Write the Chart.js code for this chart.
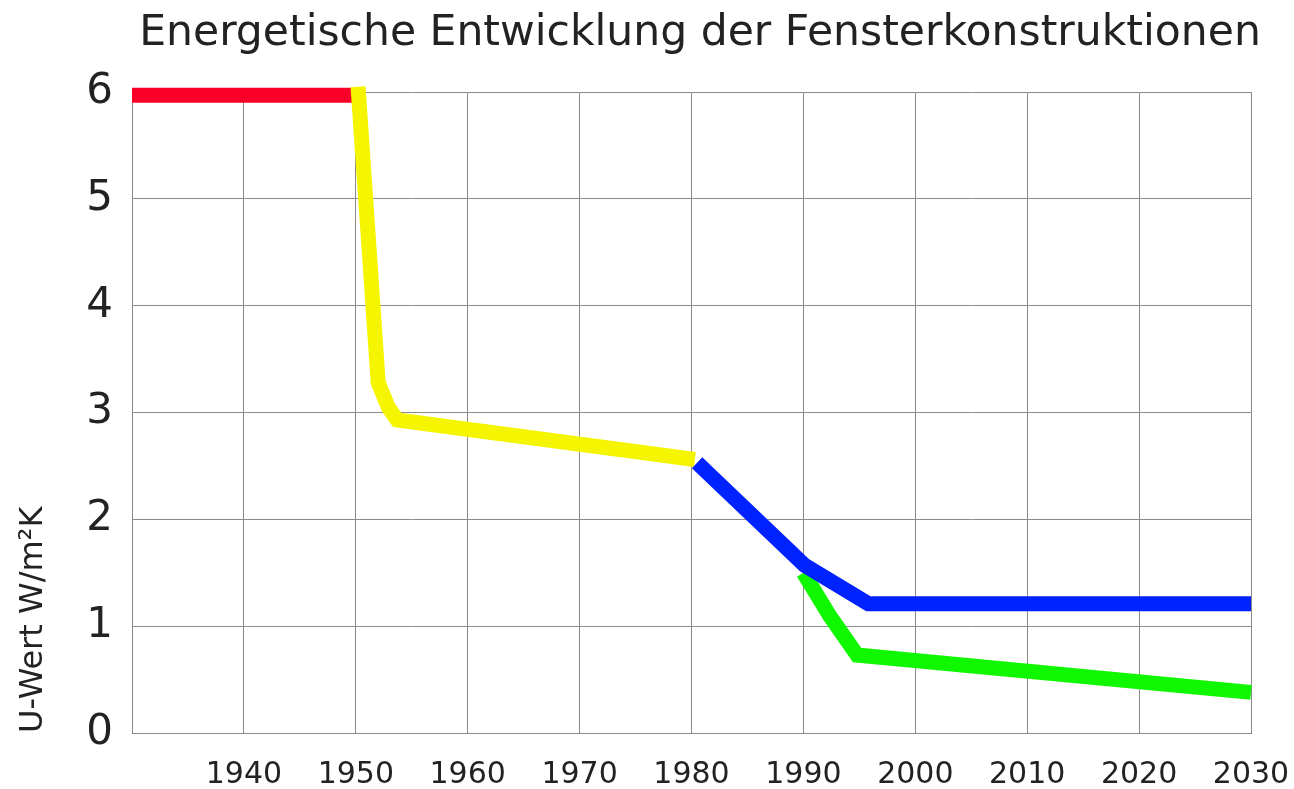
<!DOCTYPE html>
<html>
<head>
<meta charset="utf-8">
<script src="https://cdn.jsdelivr.net/npm/chart.js@4"></script>
<style>
html,body{margin:0;padding:0;background:#fff;}
#wrap{width:1294px;height:789px;}
</style>
</head>
<body>
<div id="wrap"><canvas id="c" width="1294" height="789"></canvas></div>
<script>
const chartTitle = "Energetische Entwicklung der Fensterkonstruktionen";
const yAxisTitle = "U-Wert W/m²K";

const redYears = [1930, 1949.7];
const redValues = [5.97, 5.97];

const yellowYears = [1950.2, 1952.0, 1952.9, 1953.7, 1980.3];
const yellowValues = [6.05, 3.28, 3.05, 2.93, 2.56];

const blueYears = [1980.5, 1990.1, 1995.8, 2030];
const blueValues = [2.53, 1.57, 1.21, 1.21];

const greenYears = [1990.0, 1992.4, 1994.8, 2030];
const greenValues = [1.5, 1.09, 0.73, 0.38];

const xTicks = [1930, 1940, 1950, 1960, 1970, 1980, 1990, 2000, 2010, 2020, 2030];
const yTicks = [0, 1, 2, 3, 4, 5, 6];

function pts(xs, ys) { return xs.map((x, i) => ({x: x, y: ys[i]})); }

function ds(label, xs, ys, color, order) {
  return {
    label: label,
    data: pts(xs, ys),
    borderColor: color,
    backgroundColor: color,
    borderWidth: 15,
    borderCapStyle: 'butt',
    borderJoinStyle: 'miter',
    tension: 0,
    pointRadius: 0,
    pointHoverRadius: 0,
    fill: false,
    clip: false,
    order: order
  };
}

const FONT = "'DejaVu Sans', Verdana, sans-serif";
const gridColor = '#8a8a8a';

const titlePlugin = {
  id: 'customTitle',
  afterDraw(chart) {
    const ctx = chart.ctx;
    ctx.save();
    ctx.font = "42.5px " + FONT;
    ctx.fillStyle = '#222';
    ctx.textAlign = 'center';
    ctx.textBaseline = 'alphabetic';
    ctx.fillText(chartTitle, 700, 45);
    ctx.restore();
  }
};

new Chart(document.getElementById('c'), {
  type: 'line',
  data: {
    datasets: [
      ds('rot', redYears, redValues, '#f80028', 3),
      ds('gelb', yellowYears, yellowValues, '#f5f500', 2),
      ds('grün', greenYears, greenValues, '#10f800', 1),
      ds('blau', blueYears, blueValues, '#0022ff', 0)
    ]
  },
  plugins: [titlePlugin],
  options: {
    responsive: false,
    animation: false,
    events: [],
    layout: { autoPadding: false, padding: { left: 0, right: 43, top: 92, bottom: 0 } },
    plugins: {
      legend: { display: false },
      tooltip: { enabled: false },
      title: { display: false }
    },
    scales: {
      x: {
        type: 'linear',
        min: 1930,
        max: 2030,
        afterBuildTicks: (s) => { s.ticks = xTicks.map(v => ({value: v})); },
        afterFit: (s) => { s.height = 56; s.paddingLeft = 0; s.paddingRight = 0; },
        ticks: {
          autoSkip: false,
          maxRotation: 0,
          padding: 24,
          color: '#222',
          font: { family: FONT, size: 30 },
          callback: (v) => v === 1930 ? '' : String(v)
        },
        grid: { color: gridColor, lineWidth: 1, drawTicks: false },
        border: { color: gridColor, width: 1 }
      },
      y: {
        type: 'linear',
        min: 0,
        max: 6,
        afterBuildTicks: (s) => { s.ticks = yTicks.map(v => ({value: v})); },
        afterFit: (s) => { s.width = 132; s.paddingTop = 0; s.paddingBottom = 0; },
        ticks: {
          padding: 19,
          color: '#222',
          font: { family: FONT, size: 42 }
        },
        grid: { color: gridColor, lineWidth: 1, drawTicks: false },
        border: { color: gridColor, width: 1 },
        title: {
          display: true,
          text: yAxisTitle,
          align: 'start',
          color: '#222',
          font: { family: FONT, size: 32 },
          padding: { top: 14, bottom: 0 }
        }
      }
    }
  }
});
</script>
</body>
</html>
